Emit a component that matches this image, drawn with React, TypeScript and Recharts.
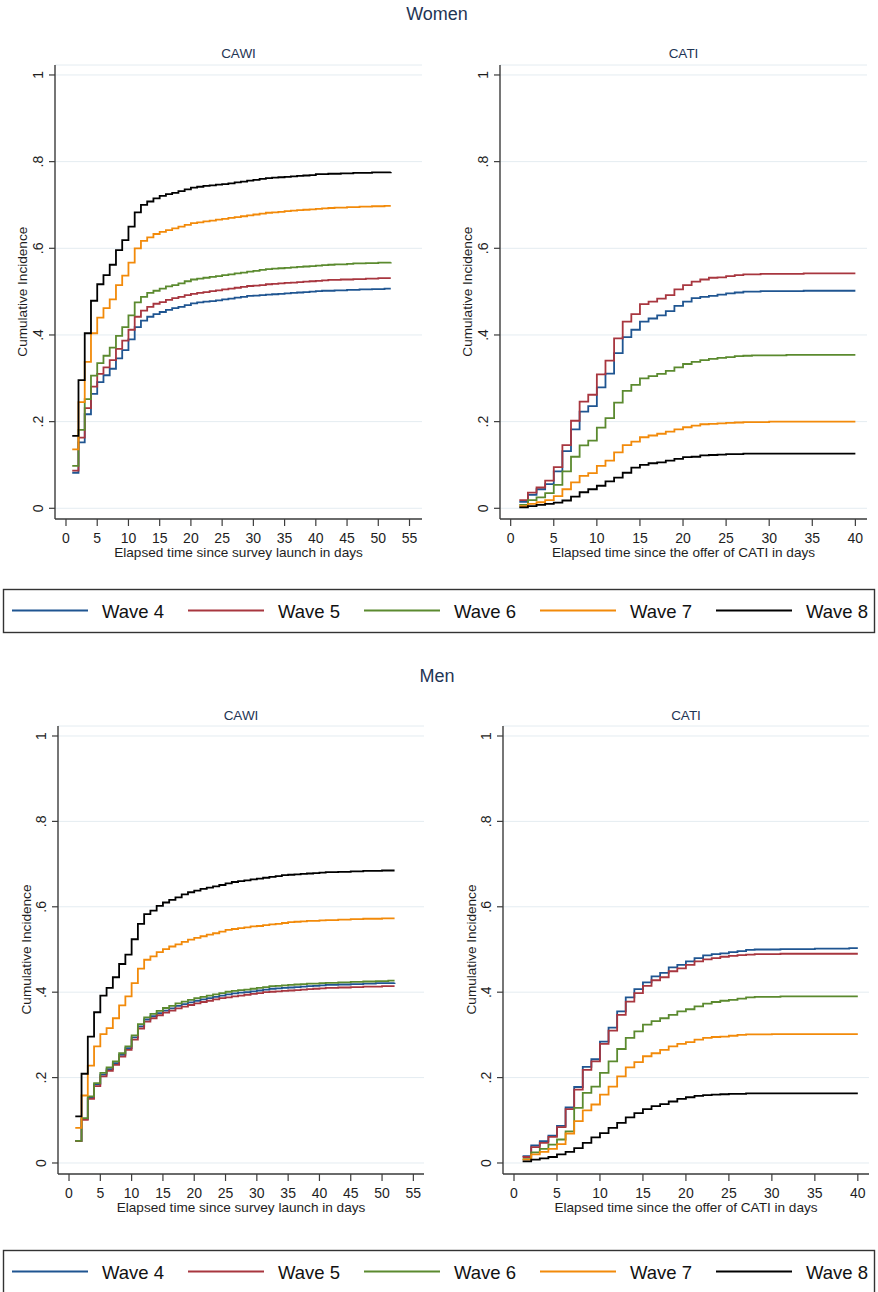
import React from 'react';
import { LineChart, Line, XAxis, YAxis, CartesianGrid } from 'recharts';

// ---------- labels / categories ----------
const WAVES = ['Wave 4', 'Wave 5', 'Wave 6', 'Wave 7', 'Wave 8'];
const WAVE_KEYS = ['w4', 'w5', 'w6', 'w7', 'w8'];
const WAVE_COLORS = ['#1f5591', '#a8363f', '#5b8a2f', '#f28a0a', '#000000'];

const Y_TICKS = [0, 0.2, 0.4, 0.6, 0.8, 1];
const Y_TICK_LABELS = ['0', '.2', '.4', '.6', '.8', '1'];
const CAWI_X_TICKS = [0, 5, 10, 15, 20, 25, 30, 35, 40, 45, 50, 55];
const CATI_X_TICKS = [0, 5, 10, 15, 20, 25, 30, 35, 40];

const CAWI_DAYS = [1, 2, 3, 4, 5, 6, 7, 8, 9, 10, 11, 12, 13, 14, 15, 16, 17, 18, 19, 20, 21, 22, 23, 24, 25, 26, 27, 28, 29, 30, 31, 32, 33, 34, 35, 36, 37, 38, 39, 40, 41, 42, 43, 44, 45, 46, 47, 48, 49, 50, 51, 52];
const CATI_DAYS = [1, 2, 3, 4, 5, 6, 7, 8, 9, 10, 11, 12, 13, 14, 15, 16, 17, 18, 19, 20, 21, 22, 23, 24, 25, 26, 27, 28, 29, 30, 31, 32, 33, 34, 35, 36, 37, 38, 39, 40];

// ---------- Women, CAWI ----------
const WOMEN_CAWI_W4 = [.082,.152,.217,.264,.291,.307,.322,.346,.365,.390,.418,.433,.442,.448,.453,.458,.462,.465,.469,.473,.475,.477,.478,.480,.482,.484,.486,.488,.490,.491,.492,.493,.494,.495,.496,.497,.498,.499,.500,.501,.502,.502,.503,.503,.504,.504,.505,.505,.506,.506,.507,.507];
const WOMEN_CAWI_W5 = [.087,.163,.231,.281,.310,.325,.342,.368,.387,.412,.442,.456,.465,.472,.476,.481,.485,.488,.492,.495,.497,.499,.501,.503,.505,.507,.509,.511,.513,.514,.515,.517,.518,.519,.520,.521,.522,.523,.524,.525,.526,.527,.527,.528,.528,.529,.529,.530,.530,.531,.531,.531];
const WOMEN_CAWI_W6 = [.098,.181,.252,.306,.335,.352,.371,.398,.418,.445,.475,.488,.497,.502,.507,.512,.515,.519,.524,.528,.530,.532,.534,.536,.538,.540,.542,.544,.546,.548,.550,.552,.553,.554,.555,.556,.557,.558,.559,.560,.561,.562,.563,.563,.564,.565,.565,.566,.566,.567,.567,.568];
const WOMEN_CAWI_W7 = [.136,.245,.338,.404,.440,.462,.482,.515,.537,.567,.600,.617,.625,.633,.638,.642,.646,.650,.654,.658,.660,.662,.664,.666,.668,.670,.672,.674,.676,.678,.680,.682,.683,.684,.686,.687,.688,.689,.690,.691,.692,.693,.694,.694,.695,.695,.696,.696,.697,.697,.698,.698];
const WOMEN_CAWI_W8 = [.167,.296,.404,.479,.517,.538,.562,.596,.619,.650,.683,.700,.708,.715,.721,.725,.728,.732,.736,.740,.742,.744,.745,.747,.748,.750,.752,.754,.756,.758,.760,.762,.763,.764,.765,.766,.767,.768,.769,.771,.771,.772,.772,.773,.773,.774,.774,.774,.775,.775,.775,.776];

// ---------- Women, CATI ----------
const WOMEN_CATI_W4 = [.015,.031,.044,.056,.085,.132,.182,.223,.236,.279,.311,.358,.395,.412,.431,.438,.445,.455,.467,.477,.485,.488,.490,.493,.496,.498,.500,.500,.501,.501,.501,.501,.501,.502,.502,.502,.502,.502,.502,.502];
const WOMEN_CATI_W5 = [.019,.036,.048,.064,.095,.146,.202,.246,.262,.309,.341,.392,.431,.448,.471,.477,.484,.492,.505,.515,.523,.528,.532,.533,.536,.538,.540,.540,.541,.541,.541,.541,.541,.542,.542,.542,.542,.542,.542,.542];
const WOMEN_CATI_W6 = [.008,.019,.025,.035,.054,.085,.119,.145,.156,.186,.208,.244,.271,.285,.300,.305,.310,.317,.325,.333,.338,.342,.345,.347,.349,.351,.352,.353,.353,.353,.353,.354,.354,.354,.354,.354,.354,.354,.354,.354];
const WOMEN_CATI_W7 = [.005,.010,.014,.019,.028,.044,.060,.075,.081,.098,.110,.129,.146,.154,.164,.168,.172,.177,.182,.187,.191,.194,.195,.196,.197,.198,.199,.199,.199,.200,.200,.200,.200,.200,.200,.200,.200,.200,.200,.200];
const WOMEN_CATI_W8 = [.002,.005,.008,.010,.013,.018,.027,.037,.044,.052,.062,.071,.082,.094,.100,.104,.106,.110,.114,.118,.119,.122,.123,.124,.125,.125,.126,.126,.126,.126,.126,.126,.126,.126,.126,.126,.126,.126,.126,.126];

// ---------- Men, CAWI ----------
const MEN_CAWI_W4 = [.052,.103,.153,.184,.207,.220,.234,.253,.269,.294,.320,.336,.344,.351,.357,.362,.368,.372,.376,.380,.383,.386,.389,.392,.395,.397,.399,.400,.402,.404,.406,.408,.409,.410,.411,.412,.413,.414,.415,.416,.417,.417,.418,.418,.419,.419,.420,.420,.421,.421,.421,.422];
const MEN_CAWI_W5 = [.051,.101,.150,.180,.203,.216,.230,.249,.265,.289,.315,.331,.339,.346,.352,.357,.362,.366,.370,.374,.377,.380,.383,.386,.388,.390,.392,.394,.396,.398,.400,.401,.402,.403,.404,.405,.406,.407,.408,.409,.410,.410,.411,.411,.412,.412,.413,.413,.413,.414,.414,.414];
const MEN_CAWI_W6 = [.052,.105,.156,.187,.211,.224,.238,.257,.273,.299,.325,.341,.349,.356,.363,.368,.374,.378,.382,.386,.389,.392,.395,.398,.401,.403,.405,.406,.408,.410,.412,.414,.415,.416,.417,.418,.419,.420,.420,.421,.422,.422,.423,.423,.424,.424,.425,.425,.426,.426,.427,.427];
const MEN_CAWI_W7 = [.082,.158,.228,.273,.302,.316,.339,.369,.390,.421,.455,.476,.484,.494,.501,.507,.512,.518,.523,.527,.531,.535,.538,.542,.546,.548,.550,.552,.554,.555,.557,.559,.560,.562,.564,.565,.566,.567,.567,.568,.569,.569,.570,.570,.571,.571,.572,.572,.572,.573,.573,.573];
const MEN_CAWI_W8 = [.109,.209,.296,.353,.392,.410,.435,.466,.488,.524,.560,.583,.591,.602,.610,.616,.622,.629,.634,.638,.642,.645,.648,.651,.655,.658,.660,.662,.664,.666,.668,.670,.672,.674,.675,.676,.677,.678,.679,.680,.681,.681,.682,.682,.683,.683,.684,.684,.684,.685,.685,.685];

// ---------- Men, CATI ----------
const MEN_CATI_W4 = [.016,.041,.051,.064,.087,.130,.178,.225,.243,.284,.317,.355,.388,.407,.423,.437,.445,.458,.464,.472,.480,.486,.489,.491,.494,.496,.499,.500,.500,.500,.501,.501,.501,.501,.502,.502,.502,.502,.503,.503];
const MEN_CATI_W5 = [.014,.037,.047,.061,.084,.126,.172,.218,.238,.279,.310,.347,.378,.398,.415,.428,.435,.449,.456,.464,.472,.477,.480,.483,.485,.487,.488,.489,.489,.489,.490,.490,.490,.490,.490,.490,.490,.490,.490,.490];
const MEN_CATI_W6 = [.009,.025,.033,.043,.055,.074,.129,.164,.179,.211,.238,.267,.293,.308,.324,.332,.339,.347,.355,.360,.367,.373,.377,.380,.382,.385,.388,.389,.389,.389,.390,.390,.390,.390,.390,.390,.390,.390,.390,.390];
const MEN_CATI_W7 = [.008,.020,.026,.033,.044,.069,.098,.123,.137,.160,.179,.203,.224,.236,.250,.257,.265,.273,.279,.283,.289,.293,.295,.296,.298,.300,.301,.301,.301,.302,.302,.302,.302,.302,.302,.302,.302,.302,.302,.302];
const MEN_CATI_W8 = [.004,.008,.011,.014,.020,.026,.035,.047,.060,.070,.082,.094,.107,.117,.126,.133,.138,.144,.150,.154,.157,.159,.160,.161,.162,.162,.163,.163,.163,.163,.163,.163,.163,.163,.163,.163,.163,.163,.163,.163];

const buildTable = (days: number[], series: number[][]) =>
  days.map((d, i) => {
    const row: any = { day: d };
    WAVE_KEYS.forEach((k, j) => { row[k] = series[j][i]; });
    return row;
  });

const FONT = '"Liberation Sans", Arial, sans-serif';
const AXIS_COLOR = '#3c3c3c';
const TICK_COLOR = '#1e1e1e';
const TITLE_COLOR = '#1f3555';
const GRID_COLOR = '#e4ecf1';

const YTick = (props: any) => {
  const { x, y, payload } = props;
  const idx = Y_TICKS.indexOf(payload.value);
  const label = idx >= 0 ? Y_TICK_LABELS[idx] : String(payload.value);
  return (
    <text x={x} y={y} transform={`rotate(-90 ${x} ${y})`} textAnchor="middle"
      fontSize={14} fill={TICK_COLOR} fontFamily={FONT}>{label}</text>
  );
};

type PanelProps = {
  data: any[];
  left: number; top: number; width: number; height: number;
  marginTop: number; marginRight: number; yWidth: number; xHeight: number;
  xDomain: [number, number]; yDomain: [number, number]; xTicks: number[];
};

const Panel = (p: PanelProps) => (
  <div style={{ position: 'absolute', left: p.left, top: p.top, width: p.width, height: p.height }}>
    <LineChart width={p.width} height={p.height} data={p.data}
      margin={{ top: p.marginTop, right: p.marginRight, bottom: 0, left: 0 }}>
      <CartesianGrid vertical={false} stroke={GRID_COLOR} strokeWidth={1} />
      <XAxis type="number" dataKey="day" domain={p.xDomain} ticks={p.xTicks} allowDataOverflow
        interval={0} height={p.xHeight} tickSize={7} tickMargin={7}
        tick={{ fontSize: 14, fill: TICK_COLOR, fontFamily: FONT }}
        axisLine={{ stroke: AXIS_COLOR, strokeWidth: 1.4 }} tickLine={{ stroke: AXIS_COLOR, strokeWidth: 1.2 }} />
      <YAxis type="number" domain={p.yDomain} ticks={Y_TICKS} allowDataOverflow interval={0}
        width={p.yWidth} tickSize={6} tickMargin={6} tick={(tp: any) => <YTick {...tp} />}
        axisLine={{ stroke: AXIS_COLOR, strokeWidth: 1.4 }} tickLine={{ stroke: AXIS_COLOR, strokeWidth: 1.2 }} />
      {WAVE_KEYS.map((k, i) => (
        <Line key={k} type="stepAfter" dataKey={k} stroke={WAVE_COLORS[i]} strokeWidth={1.8}
          dot={false} activeDot={false} isAnimationActive={false} />
      ))}
    </LineChart>
  </div>
);

const Legend = ({ top }: { top: number }) => (
  <g>
    <rect x={3.5} y={top + 0.5} width={871} height={43} fill="none" stroke="#333" strokeWidth={1.4} />
    {WAVES.map((w, i) => (
      <g key={w}>
        <line x1={12 + 176 * i} x2={88 + 176 * i} y1={top + 21.5} y2={top + 21.5}
          stroke={WAVE_COLORS[i]} strokeWidth={2} />
        <text x={102 + 176 * i} y={top + 28.5} fontSize={18.5} fill="#111" fontFamily={FONT}>{w}</text>
      </g>
    ))}
  </g>
);

export default function App() {
  const womenCawi = buildTable(CAWI_DAYS, [WOMEN_CAWI_W4, WOMEN_CAWI_W5, WOMEN_CAWI_W6, WOMEN_CAWI_W7, WOMEN_CAWI_W8]);
  const womenCati = buildTable(CATI_DAYS, [WOMEN_CATI_W4, WOMEN_CATI_W5, WOMEN_CATI_W6, WOMEN_CATI_W7, WOMEN_CATI_W8]);
  const menCawi = buildTable(CAWI_DAYS, [MEN_CAWI_W4, MEN_CAWI_W5, MEN_CAWI_W6, MEN_CAWI_W7, MEN_CAWI_W8]);
  const menCati = buildTable(CATI_DAYS, [MEN_CATI_W4, MEN_CATI_W5, MEN_CATI_W6, MEN_CATI_W7, MEN_CATI_W8]);

  const wY: [number, number] = [-0.0247, 1.023];
  const mY: [number, number] = [-0.0258, 1.0234];

  const yTitle = (x: number, y: number) => (
    <text x={x} y={y} transform={`rotate(-90 ${x} ${y})`} textAnchor="middle"
      fontSize={13.6} fill={TICK_COLOR} fontFamily={FONT}>Cumulative Incidence</text>
  );

  return (
    <div style={{ position: 'absolute', left: 0, top: 0, width: 878, height: 1292, background: '#fff', overflow: 'hidden', fontFamily: FONT }}>
      <Panel data={womenCawi} left={0} top={40} width={440} height={530}
        marginTop={25} marginRight={18} yWidth={55} xHeight={51}
        xDomain={[-1.76, 57]} yDomain={wY} xTicks={CAWI_X_TICKS} />
      <Panel data={womenCati} left={440} top={40} width={438} height={530}
        marginTop={25} marginRight={11} yWidth={60} xHeight={51}
        xDomain={[-1.24, 41.35]} yDomain={wY} xTicks={CATI_X_TICKS} />
      <Panel data={menCawi} left={0} top={700} width={440} height={535}
        marginTop={26} marginRight={16} yWidth={58} xHeight={61}
        xDomain={[-1.76, 56.7]} yDomain={mY} xTicks={CAWI_X_TICKS} />
      <Panel data={menCati} left={440} top={700} width={438} height={535}
        marginTop={26} marginRight={9} yWidth={63} xHeight={61}
        xDomain={[-1.28, 41.3]} yDomain={mY} xTicks={CATI_X_TICKS} />

      <svg width={878} height={1292} style={{ position: 'absolute', left: 0, top: 0, pointerEvents: 'none' }}>
        <text x={437} y={19.5} textAnchor="middle" fontSize={18} fill={TITLE_COLOR} fontFamily={FONT}>Women</text>
        <text x={238.5} y={57.5} textAnchor="middle" fontSize={13.5} fill={TITLE_COLOR} fontFamily={FONT}>CAWI</text>
        <text x={683.5} y={57.5} textAnchor="middle" fontSize={13.5} fill={TITLE_COLOR} fontFamily={FONT}>CATI</text>
        {yTitle(27.5, 291.7)}
        {yTitle(472.5, 291.7)}
        <text x={238.5} y={557} textAnchor="middle" fontSize={13.6} fill={TICK_COLOR} fontFamily={FONT}>Elapsed time since survey launch in days</text>
        <text x={683.5} y={557} textAnchor="middle" fontSize={13.6} fill={TICK_COLOR} fontFamily={FONT}>Elapsed time since the offer of CATI in days</text>
        <Legend top={589} />

        <text x={437} y={681.5} textAnchor="middle" fontSize={18} fill={TITLE_COLOR} fontFamily={FONT}>Men</text>
        <text x={241} y={720} textAnchor="middle" fontSize={13.5} fill={TITLE_COLOR} fontFamily={FONT}>CAWI</text>
        <text x={686} y={720} textAnchor="middle" fontSize={13.5} fill={TITLE_COLOR} fontFamily={FONT}>CATI</text>
        {yTitle(30.5, 949.5)}
        {yTitle(475.5, 949.5)}
        <text x={241} y={1211.5} textAnchor="middle" fontSize={13.6} fill={TICK_COLOR} fontFamily={FONT}>Elapsed time since survey launch in days</text>
        <text x={686} y={1211.5} textAnchor="middle" fontSize={13.6} fill={TICK_COLOR} fontFamily={FONT}>Elapsed time since the offer of CATI in days</text>
        <Legend top={1250} />
      </svg>
    </div>
  );
}
